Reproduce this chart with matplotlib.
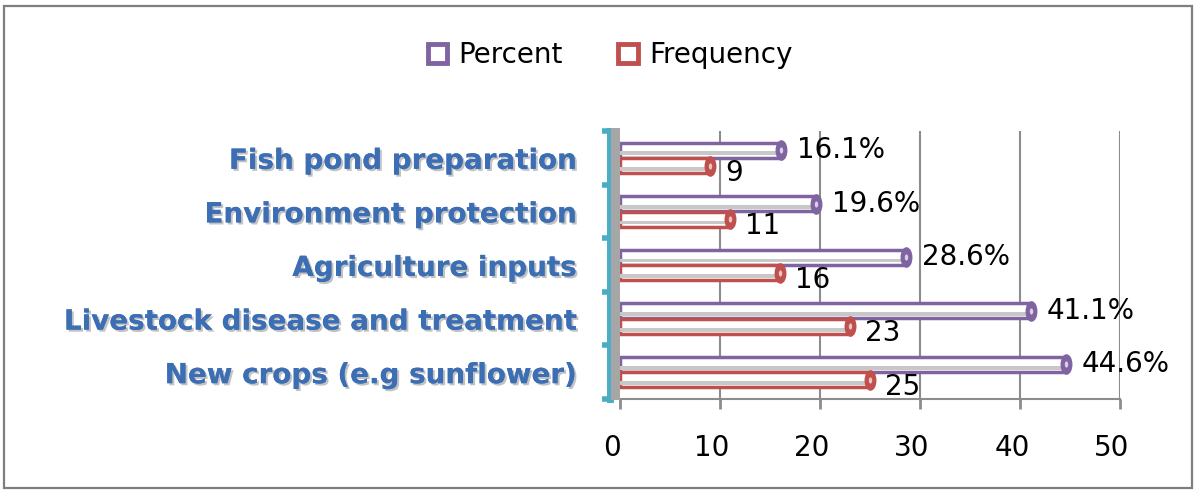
import matplotlib
matplotlib.use("Agg")
import matplotlib.pyplot as plt
import matplotlib.patheffects as pe
from matplotlib.patches import Rectangle
from matplotlib.path import Path
from matplotlib.transforms import Affine2D, ScaledTranslation
import numpy as np

categories = ["New crops (e.g sunflower)", "Livestock disease and treatment",
              "Agriculture inputs", "Environment protection", "Fish pond preparation"]
percent = [44.6, 41.1, 28.6, 19.6, 16.1]
frequency = [25, 23, 16, 11, 9]
percent_labels = ["44.6%", "41.1%", "28.6%", "19.6%", "16.1%"]
frequency_labels = ["25", "23", "16", "11", "9"]
xticks = [0, 10, 20, 30, 40, 50]

PURPLE = "#8064A2"
RED = "#C0504D"
TEAL = "#4BACC6"
LBLUE = "#3C6EB4"

W, H = 1197, 494
fig = plt.figure(figsize=(W / 100, H / 100), dpi=100)
fig.patch.set_facecolor("white")

# outer border
fig.add_artist(Rectangle((4 / W, 6 / H), (W - 9) / W, (H - 12) / H, transform=fig.transFigure,
                         fill=False, edgecolor="#7F7F7F", linewidth=1.6))

ax = fig.add_axes([620 / W, (H - 399) / H, 500 / W, 268 / H])
ax.set_xlim(0, 50)
ax.set_ylim(-0.5, 4.5)

y = np.arange(len(categories))
bh = 0.28
off = 0.145

# gridlines
for xv in xticks[1:]:
    ax.axvline(xv, color="#8C8C8C", linewidth=1.5, zorder=0)

ellipse = Path.unit_circle().transformed(Affine2D().scale(0.55, 1.0))

def tube(vals, ypos, color, light):
    ax.barh(ypos, vals, height=bh, color="white", edgecolor=color, linewidth=2.5, zorder=2)
    ax.barh(ypos - bh * 0.22, vals, height=bh * 0.26, color="#C8C8C8", linewidth=0, zorder=2.5)
    ax.scatter(vals, ypos, s=190, marker=ellipse, color=color, edgecolor=color, zorder=3)
    ax.scatter(vals, ypos, s=20, marker=ellipse, color=light, linewidth=0, zorder=3.5)

tube(percent, y + off, PURPLE, "#D9D0E6")
tube(frequency, y - off, RED, "#EBC5C4")

for i in range(len(categories)):
    ax.annotate(percent_labels[i], (percent[i], y[i] + off), xytext=(16, 0),
                textcoords="offset pixels", va="center", ha="left", fontsize=20,
                color="black", zorder=5)
    ax.annotate(frequency_labels[i], (frequency[i], y[i] - off), xytext=(15, -7),
                textcoords="offset pixels", va="center", ha="left", fontsize=20,
                color="black", zorder=5)

# gray side wall
fig.add_artist(Rectangle((611 / W, (H - 400) / H), 9 / W, 272 / H, transform=fig.transFigure,
                         facecolor="#A6A6A6", edgecolor="none", zorder=1))

# spines
for s in ["top", "right"]:
    ax.spines[s].set_visible(False)
ax.spines["left"].set_position(("outward", 7))
ax.spines["left"].set_color(TEAL)
ax.spines["left"].set_linewidth(5)
ax.spines["bottom"].set_color("#8C8C8C")
ax.spines["bottom"].set_linewidth(1.5)

ax.set_yticks(y)
ax.set_yticklabels(categories)
ax.set_yticks(np.arange(-0.5, 5, 1), minor=True)
ax.tick_params(axis="y", which="major", length=0, pad=24)
ax.tick_params(axis="y", which="minor", length=6, width=4, color=TEAL, direction="out")
for lab in ax.get_yticklabels():
    lab.set_fontsize(20)
    lab.set_fontweight("bold")
    lab.set_color(LBLUE)
    lab.set_path_effects([pe.withSimplePatchShadow(offset=(1.5, -1.5), shadow_rgbFace="#9A9A9A", alpha=0.6),
                          pe.Normal()])

ax.set_xticks(xticks)
ax.set_xticklabels([str(v) for v in xticks])
ax.tick_params(axis="x", length=7, width=2, color="#8C8C8C", pad=18, labelsize=20)
shift = ScaledTranslation(-8 / 100, 0, fig.dpi_scale_trans)
for lab in ax.get_xticklabels():
    lab.set_transform(lab.get_transform() + shift)

# legend
handles = [Rectangle((0, 0), 1, 1, facecolor="white", edgecolor=PURPLE, linewidth=3.5),
           Rectangle((0, 0), 1, 1, facecolor="white", edgecolor=RED, linewidth=3.5)]
fig.legend(handles, ["Percent", "Frequency"], loc="center", bbox_to_anchor=(610 / W, (H - 55) / H),
           ncol=2, frameon=False, fontsize=20, handlelength=0.7, handleheight=0.7,
           handletextpad=0.4, columnspacing=2.0)

fig.savefig("out.png", dpi=100)
